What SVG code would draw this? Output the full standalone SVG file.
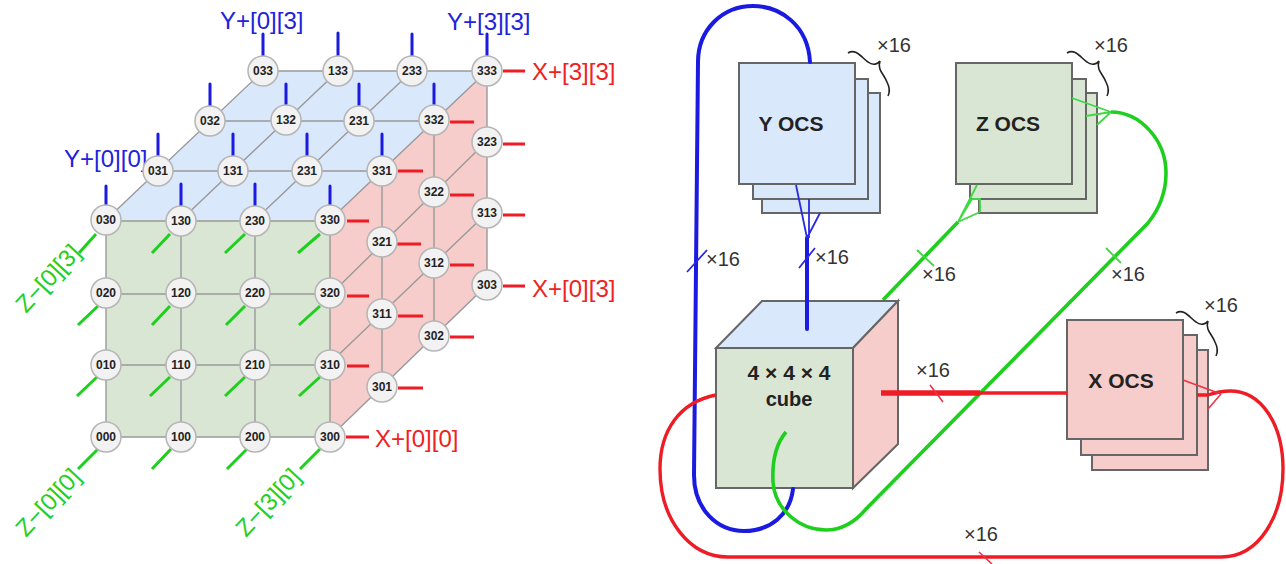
<svg xmlns="http://www.w3.org/2000/svg" width="1286" height="564" viewBox="0 0 1286 564">
<style>
text{font-family:"Liberation Sans",Arial,sans-serif}
.n circle{fill:#f2f2f2;stroke:#b5b5b5;stroke-width:1.5}
.n text{font-size:12px;font-weight:700;fill:#222;text-anchor:middle}
.g{stroke:#999;stroke-width:1.4;fill:none}
.b{stroke:#1a1ae0;stroke-width:4;fill:none;stroke-linecap:round}
.r{stroke:#ee1c25;stroke-width:3.4;fill:none}
.v{stroke:#1ecf1e;stroke-width:3.6;fill:none}
.l{font-size:24px}
.lb{fill:#2222dd}.lr{fill:#ee2222}.lg{fill:#22d022;text-anchor:middle}
.box{stroke:#666;stroke-width:2}
.cb{fill:#dae8fc}.cg{fill:#d9e6d3}.cr{fill:#f6cdca}
.t{font-weight:700;fill:#222;text-anchor:middle}
.x{font-size:20px;fill:#333}
.br{fill:none;stroke:#222;stroke-width:1.6}
.thinb{stroke:#2a2ae0;stroke-width:1.8;fill:none}
.thinv{stroke:#40d840;stroke-width:1.8;fill:none}
.thinr{stroke:#ee3344;stroke-width:1.6;fill:none}
</style>
<g id="torus-faces">
<polygon class="cb" points="106,220 263,71 487,71 330,220"/>
<polygon class="cg" points="106,220 330,220 330,437 106,437"/>
<polygon class="cr" points="330,220 487,71 487,285 330,437"/>
</g>
<g id="connectors-grid">
<path class="g" d="M106 221H330M106 294H330M106 365H330M106 437H330M106 220V437M181 220V437M255 220V437M330 220V437M158 171H381M210 121H434M263 71H487M106 220L263 71M181 220L338 71M255 220L412 71M330 220L487 71M382 171V386M434 120V334M487 71V285M330 295L487 141M330 363L487 213M330 437L487 285"/>
<path class="b" style="stroke-width:3" d="M263 34V57M338 33V56M412 34V57M487 34V57M210 84V106M286 84V106M359 84V106M434 84V106M158 134V157M233 134V157M307 134V157M382 134V157M106 186V207M181 184V206M255 184V206M330 186V207"/>
<path class="r" style="stroke-width:3" d="M503 71H525M450 122H474M503 144H525M398 171H423M450 195H474M503 215H525M347 221H369M397 244H421M450 265H474M503 286H525M347 296H369M398 316H423M450 337H474M347 366H369M398 388H423M346 437H369"/>
<path class="v" style="stroke-width:3" d="M96 234L79 253M170 234L152 253M245 234L225 253M320 234L298 253M98 306L78 325M170 306L152 325M245 306L226 325M320 306L299 325M97 377L77 396M170 377L150 396M245 377L225 396M320 377L299 396M98 449L78 469M171 449L152 469M247 449L227 469M320 449L300 469"/>
</g>
<g id="labels-left">
<text class="l lb" x="220" y="29">Y+[0][3]</text>
<text class="l lb" x="447" y="30">Y+[3][3]</text>
<text class="l lb" x="64" y="167">Y+[0][0]</text>
<text class="l lr" x="532" y="80">X+[3][3]</text>
<text class="l lr" x="532" y="297">X+[0][3]</text>
<text class="l lr" x="375" y="447">X+[0][0]</text>
<text class="l lg" transform="translate(54,284) rotate(-47)">Z−[0][3]</text>
<text class="l lg" transform="translate(54,508) rotate(-47)">Z−[0][0]</text>
<text class="l lg" transform="translate(274,508) rotate(-47)">Z−[3][0]</text>
</g>
<g id="n033" class="n"><circle cx="263" cy="71" r="15"/><text x="263" y="75">033</text></g>
<g id="n133" class="n"><circle cx="338" cy="71" r="15"/><text x="338" y="75">133</text></g>
<g id="n233" class="n"><circle cx="412" cy="71" r="15"/><text x="412" y="75">233</text></g>
<g id="n333" class="n"><circle cx="487" cy="71" r="15"/><text x="487" y="75">333</text></g>
<g id="n032" class="n"><circle cx="210" cy="121" r="15"/><text x="210" y="125">032</text></g>
<g id="n132" class="n"><circle cx="286" cy="120" r="15"/><text x="286" y="124">132</text></g>
<g id="n231b" class="n"><circle cx="359" cy="121" r="15"/><text x="359" y="125">231</text></g>
<g id="n332" class="n"><circle cx="434" cy="120" r="15"/><text x="434" y="124">332</text></g>
<g id="n323" class="n"><circle cx="487" cy="142" r="15"/><text x="487" y="146">323</text></g>
<g id="n031" class="n"><circle cx="158" cy="171" r="15"/><text x="158" y="175">031</text></g>
<g id="n131" class="n"><circle cx="233" cy="171" r="15"/><text x="233" y="175">131</text></g>
<g id="n231" class="n"><circle cx="307" cy="171" r="15"/><text x="307" y="175">231</text></g>
<g id="n331" class="n"><circle cx="382" cy="171" r="15"/><text x="382" y="175">331</text></g>
<g id="n322" class="n"><circle cx="434" cy="192" r="15"/><text x="434" y="196">322</text></g>
<g id="n313" class="n"><circle cx="487" cy="213" r="15"/><text x="487" y="217">313</text></g>
<g id="n030" class="n"><circle cx="106" cy="220" r="15"/><text x="106" y="224">030</text></g>
<g id="n130" class="n"><circle cx="181" cy="221" r="15"/><text x="181" y="225">130</text></g>
<g id="n230" class="n"><circle cx="255" cy="221" r="15"/><text x="255" y="225">230</text></g>
<g id="n330" class="n"><circle cx="330" cy="220" r="15"/><text x="330" y="224">330</text></g>
<g id="n321" class="n"><circle cx="382" cy="242" r="15"/><text x="382" y="246">321</text></g>
<g id="n312" class="n"><circle cx="434" cy="263" r="15"/><text x="434" y="267">312</text></g>
<g id="n303" class="n"><circle cx="487" cy="285" r="15"/><text x="487" y="289">303</text></g>
<g id="n020" class="n"><circle cx="106" cy="293" r="15"/><text x="106" y="297">020</text></g>
<g id="n120" class="n"><circle cx="181" cy="293" r="15"/><text x="181" y="297">120</text></g>
<g id="n220" class="n"><circle cx="255" cy="293" r="15"/><text x="255" y="297">220</text></g>
<g id="n320" class="n"><circle cx="330" cy="293" r="15"/><text x="330" y="297">320</text></g>
<g id="n311" class="n"><circle cx="382" cy="314" r="15"/><text x="382" y="318">311</text></g>
<g id="n302" class="n"><circle cx="434" cy="336" r="15"/><text x="434" y="340">302</text></g>
<g id="n010" class="n"><circle cx="106" cy="365" r="15"/><text x="106" y="369">010</text></g>
<g id="n110" class="n"><circle cx="181" cy="365" r="15"/><text x="181" y="369">110</text></g>
<g id="n210" class="n"><circle cx="255" cy="365" r="15"/><text x="255" y="369">210</text></g>
<g id="n310" class="n"><circle cx="330" cy="365" r="15"/><text x="330" y="369">310</text></g>
<g id="n301" class="n"><circle cx="382" cy="387" r="15"/><text x="382" y="391">301</text></g>
<g id="n000" class="n"><circle cx="106" cy="437" r="15"/><text x="106" y="441">000</text></g>
<g id="n100" class="n"><circle cx="181" cy="437" r="15"/><text x="181" y="441">100</text></g>
<g id="n200" class="n"><circle cx="255" cy="437" r="15"/><text x="255" y="441">200</text></g>
<g id="n300" class="n"><circle cx="330" cy="437" r="15"/><text x="330" y="441">300</text></g>

<g id="y-ocs">
<rect class="box cb" x="762" y="93" width="118" height="120"/>
<rect class="box cb" x="753" y="79" width="115" height="120"/>
<rect class="box cb" x="739" y="63" width="116" height="121"/>
<text class="t" x="791" y="131" font-size="21">Y OCS</text>
<path class="br" d="M848 53C856 48 862 58 868 62C873 66 878 64 880 61C877 70 884 74 887 82C890 88 890 92 888 96"/>
<text class="x" x="877" y="52">×16</text>
</g>
<g id="z-ocs">
<rect class="box cg" x="979" y="93" width="118" height="120"/>
<rect class="box cg" x="970" y="79" width="116" height="120"/>
<rect class="box cg" x="956" y="63" width="116" height="121"/>
<text class="t" x="1008" y="131" font-size="21">Z OCS</text>
<path class="br" d="M1067 53C1075 48 1081 58 1087 62C1092 66 1097 64 1099 61C1096 70 1103 74 1106 82C1109 88 1109 92 1107 96"/>
<text class="x" x="1094" y="52">×16</text>
</g>
<g id="x-ocs">
<rect class="box cr" x="1092" y="350" width="116" height="120"/>
<rect class="box cr" x="1081" y="335" width="116" height="120"/>
<rect class="box cr" x="1067" y="320" width="116" height="119"/>
<text class="t" x="1121" y="388" font-size="21">X OCS</text>
<path class="br" d="M1176 313C1184 308 1190 318 1196 322C1201 326 1206 324 1208 321C1205 330 1212 334 1215 342C1218 348 1218 352 1216 356"/>
<text class="x" x="1204" y="312">×16</text>
</g>
<g id="connectors">
<path class="v" d="M883 300L958 222"/>
<path class="thinv" d="M958 222L977 185M958 222L972 199M958 222L980 212M972 199H980V212"/>
</g>
<g id="cube">
<polygon class="box cb" points="716,348 762,301 898,301 853,348"/>
<polygon class="box cr" points="853,348 898,301 898,444 853,488"/>
<rect class="box cg" x="716" y="348" width="137" height="140"/>
<text class="t" x="789" y="380" font-size="21">4 × 4 × 4</text>
<text class="t" x="789" y="406" font-size="20">cube</text>
</g>
<g id="connectors-right">
<path class="b" d="M810 62C808 25 780 6 753 6C722 6 698 30 698 62L694 475C694 510 718 531 744 531C770 531 790 515 793 489"/>
<path class="b" d="M807 238V329"/>
<path class="thinb" d="M796 185L807 238M809 199V238M820 213L807 238M687 272L707 250M799 268L815 248"/>
<path class="v" d="M786 432C775 445 772 462 773 482C775 510 800 530 826 530C842 530 855 522 866 509L1148 223C1160 208 1166 192 1166 173C1166 140 1140 112 1111 112"/>
<path class="thinv" d="M1072 98L1111 112M1086 116L1111 112M1097 125L1111 112M917 250L934 266M1106 248L1121 263"/>
<path class="r" d="M1067 393H881"/>
<path class="r" d="M881 393H980" style="stroke-width:5.5"/>
<path class="r" d="M716 395C680 402 660 430 660 469C660 520 690 557 728 557H1221C1260 557 1283 515 1283 469C1283 425 1262 391 1230 391C1222 391 1214 393 1208 395H1197"/>
<path class="thinr" d="M1183 380L1221 394M1208 409L1221 394M930 385L943 402M979 552L992 564"/>
<text class="x" x="706" y="266">×16</text>
<text class="x" x="815" y="264">×16</text>
<text class="x" x="922" y="281">×16</text>
<text class="x" x="1111" y="281">×16</text>
<text class="x" x="916" y="377">×16</text>
<text class="x" x="964" y="541">×16</text>
</g>
</svg>
